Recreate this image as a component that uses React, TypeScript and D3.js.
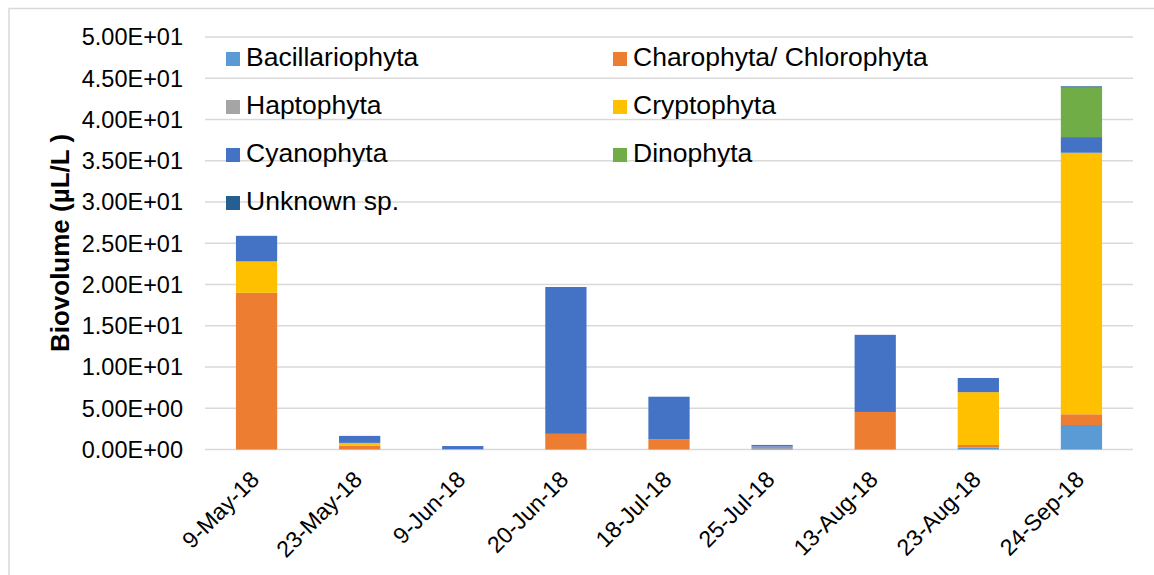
import React from "react";
import * as d3 from "d3";

const categories = ["9-May-18", "23-May-18", "9-Jun-18", "20-Jun-18", "18-Jul-18", "25-Jul-18", "13-Aug-18", "23-Aug-18", "24-Sep-18"];
const seriesNames = ["Bacillariophyta", "Charophyta/ Chlorophyta", "Haptophyta", "Cryptophyta", "Cyanophyta", "Dinophyta", "Unknown sp."];
const seriesColors = ["#5B9BD5", "#ED7D31", "#A5A5A5", "#FFC000", "#4472C4", "#70AD47", "#255E91"];

const bacillariophyta = [0, 0, 0, 0, 0, 0.15, 0, 0.22, 2.97];
const charophyta = [19.0, 0.45, 0.05, 1.9, 1.25, 0.15, 4.55, 0.33, 1.3];
const haptophyta = [0, 0, 0, 0, 0, 0.05, 0, 0, 0];
const cryptophyta = [3.8, 0.35, 0, 0, 0, 0, 0, 6.4, 31.7];
const cyanophyta = [3.1, 0.85, 0.37, 17.8, 5.15, 0.2, 9.35, 1.72, 1.9];
const dinophyta = [0, 0, 0, 0, 0, 0, 0, 0, 6.0];
const unknown = [0, 0, 0, 0, 0, 0, 0, 0, 0.15];

const yTicks = [0, 5, 10, 15, 20, 25, 30, 35, 40, 45, 50];

const seriesValues = [bacillariophyta, charophyta, haptophyta, cryptophyta, cyanophyta, dinophyta, unknown];

export default function App() {
  const W = 1154, H = 575;
  const left = 205, right = 1133, top = 37, bottom = 449.5;

  const x = d3.scaleBand<string>().domain(categories).range([left, right]).paddingInner(0.6).paddingOuter(0.3);
  const y = d3.scaleLinear().domain([0, 50]).range([bottom, top]);

  const rows = categories.map((c, i) => {
    const r: any = { cat: c };
    seriesNames.forEach((s, k) => (r[s] = seriesValues[k][i]));
    return r;
  });
  const stacked = d3.stack<any>().keys(seriesNames)(rows);

  const fmt = (v: number) => {
    const e = v === 0 ? 0 : Math.floor(Math.log10(v));
    const m = v / Math.pow(10, e);
    return `${m.toFixed(2)}E${e >= 0 ? "+" : "-"}${String(Math.abs(e)).padStart(2, "0")}`;
  };

  const legendPos = [
    [226, 52], [613, 52],
    [226, 100], [613, 100],
    [226, 148], [613, 148],
    [226, 196],
  ];

  return (
    <svg width={W} height={H} style={{ position: "absolute", left: 0, top: 0, fontFamily: "'Liberation Sans', Arial, sans-serif" }}>
      <rect x={0} y={0} width={W} height={H} fill="#fff" />
      <rect x={9} y={8.5} width={W + 10} height={H + 10} fill="none" stroke="#D9D9D9" strokeWidth={1.5} />
      {yTicks.map((t) => (
        <g key={t}>
          <line x1={left} x2={right} y1={y(t)} y2={y(t)} stroke="#D9D9D9" strokeWidth={1.5} />
          <text x={183} y={y(t)} dy="0.36em" textAnchor="end" fontSize={23.5} fill="#000">{fmt(t)}</text>
        </g>
      ))}
      {stacked.map((s, k) => (
        <g key={s.key} fill={seriesColors[k]}>
          {s.map((d, i) => (
            d[1] - d[0] > 0 ? (
              <rect key={i} x={x(categories[i])} width={x.bandwidth()} y={y(d[1])} height={y(d[0]) - y(d[1])} />
            ) : null
          ))}
        </g>
      ))}
      {categories.map((c) => (
        <text key={c} transform={`translate(${(x(c) as number) + x.bandwidth() / 2 + 4},481) rotate(-45)`} textAnchor="end" fontSize={23} fill="#000">{c}</text>
      ))}
      <text transform={`translate(69,243) rotate(-90)`} textAnchor="middle" fontSize={26} fontWeight="bold" fill="#000">Biovolume (µL/L )</text>
      {seriesNames.map((s, k) => (
        <g key={s} transform={`translate(${legendPos[k][0]},${legendPos[k][1]})`}>
          <rect x={0} y={0} width={14} height={14} fill={seriesColors[k]} />
          <text x={20} y={14} fontSize={26.5} fill="#000">{s}</text>
        </g>
      ))}
    </svg>
  );
}
